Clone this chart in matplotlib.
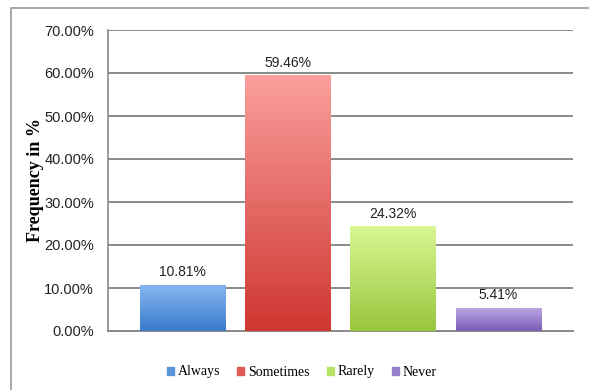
import matplotlib
matplotlib.use("Agg")
import matplotlib.pyplot as plt
import numpy as np
from matplotlib.colors import LinearSegmentedColormap
from matplotlib.patches import Rectangle

categories = ["Always", "Sometimes", "Rarely", "Never"]
values = [10.81, 59.46, 24.32, 5.41]
labels = ["10.81%", "59.46%", "24.32%", "5.41%"]
yticks = [0, 10, 20, 30, 40, 50, 60, 70]
ytick_labels = ["0.00%", "10.00%", "20.00%", "30.00%", "40.00%", "50.00%", "60.00%", "70.00%"]
top_colors = ["#86b8f2", "#fa9f9c", "#d9f794", "#bca8e4"]
bottom_colors = ["#3b7bcc", "#cf3631", "#98c63c", "#7a5cb5"]

fig = plt.figure(figsize=(5.89, 3.9), dpi=100)
fig.patches.append(Rectangle((11/589, -0.01), 1.0, 1 - 8/390 + 0.01, transform=fig.transFigure,
                             fill=False, edgecolor="#9a9a9a", linewidth=1.2))
ax = fig.add_axes([108/589, 59/390, 465/589, 301/390])

x = np.arange(len(categories))
width = 0.81
bars = ax.bar(x, values, width=width, color=bottom_colors, zorder=3, label=None)
grad = np.linspace(0, 1, 256).reshape(-1, 1)
for b, tc, bc in zip(bars, top_colors, bottom_colors):
    cmap = LinearSegmentedColormap.from_list("g", [bc, tc])
    bx, by = b.get_x(), b.get_y()
    w, h = b.get_width(), b.get_height()
    im = ax.imshow(grad, cmap=cmap, aspect="auto", origin="lower",
                   extent=[bx, bx + w, by, by + h], zorder=4)
    im.set_clip_path(b)

for xi, v, lab in zip(x, values, labels):
    ax.annotate(lab, (xi, v), xytext=(0, 4), textcoords="offset points",
                ha="center", va="bottom", fontsize=10, color="#222222",
                family="Liberation Sans")

ax.set_xlim(-0.71, 3.71)
ax.set_ylim(0, 70)
ax.set_yticks(yticks)
ax.set_yticklabels(ytick_labels, family="Liberation Sans", fontsize=10.5, color="#222222")
ax.set_xticks([])
ax.yaxis.grid(True, color="#8a8a8a", linewidth=1.4, zorder=0)
ax.set_axisbelow(True)
ax.tick_params(axis="y", length=0, pad=10)
for s in ["top", "right"]:
    ax.spines[s].set_visible(False)
ax.spines["left"].set_color("#8a8a8a")
ax.spines["bottom"].set_color("#8a8a8a")
ax.spines["left"].set_linewidth(1.2)
ax.spines["bottom"].set_linewidth(1.4)
ax.set_ylabel("Frequency in %", family="Liberation Serif", fontweight="bold", fontsize=13, labelpad=0)

handles = [Rectangle((0, 0), 1, 1, color=c) for c in [
    "#5a95dc", "#e05a57", "#b8e264", "#9880cc"]]
leg = fig.legend(handles, categories, loc="center", bbox_to_anchor=(302/589, 1 - 372/390),
                 ncol=4, frameon=False, handlelength=0.5, handleheight=0.5,
                 handletextpad=0.3, columnspacing=1.2,
                 prop={"family": "Liberation Serif", "size": 10})
fig.savefig("out.png", dpi=100)
